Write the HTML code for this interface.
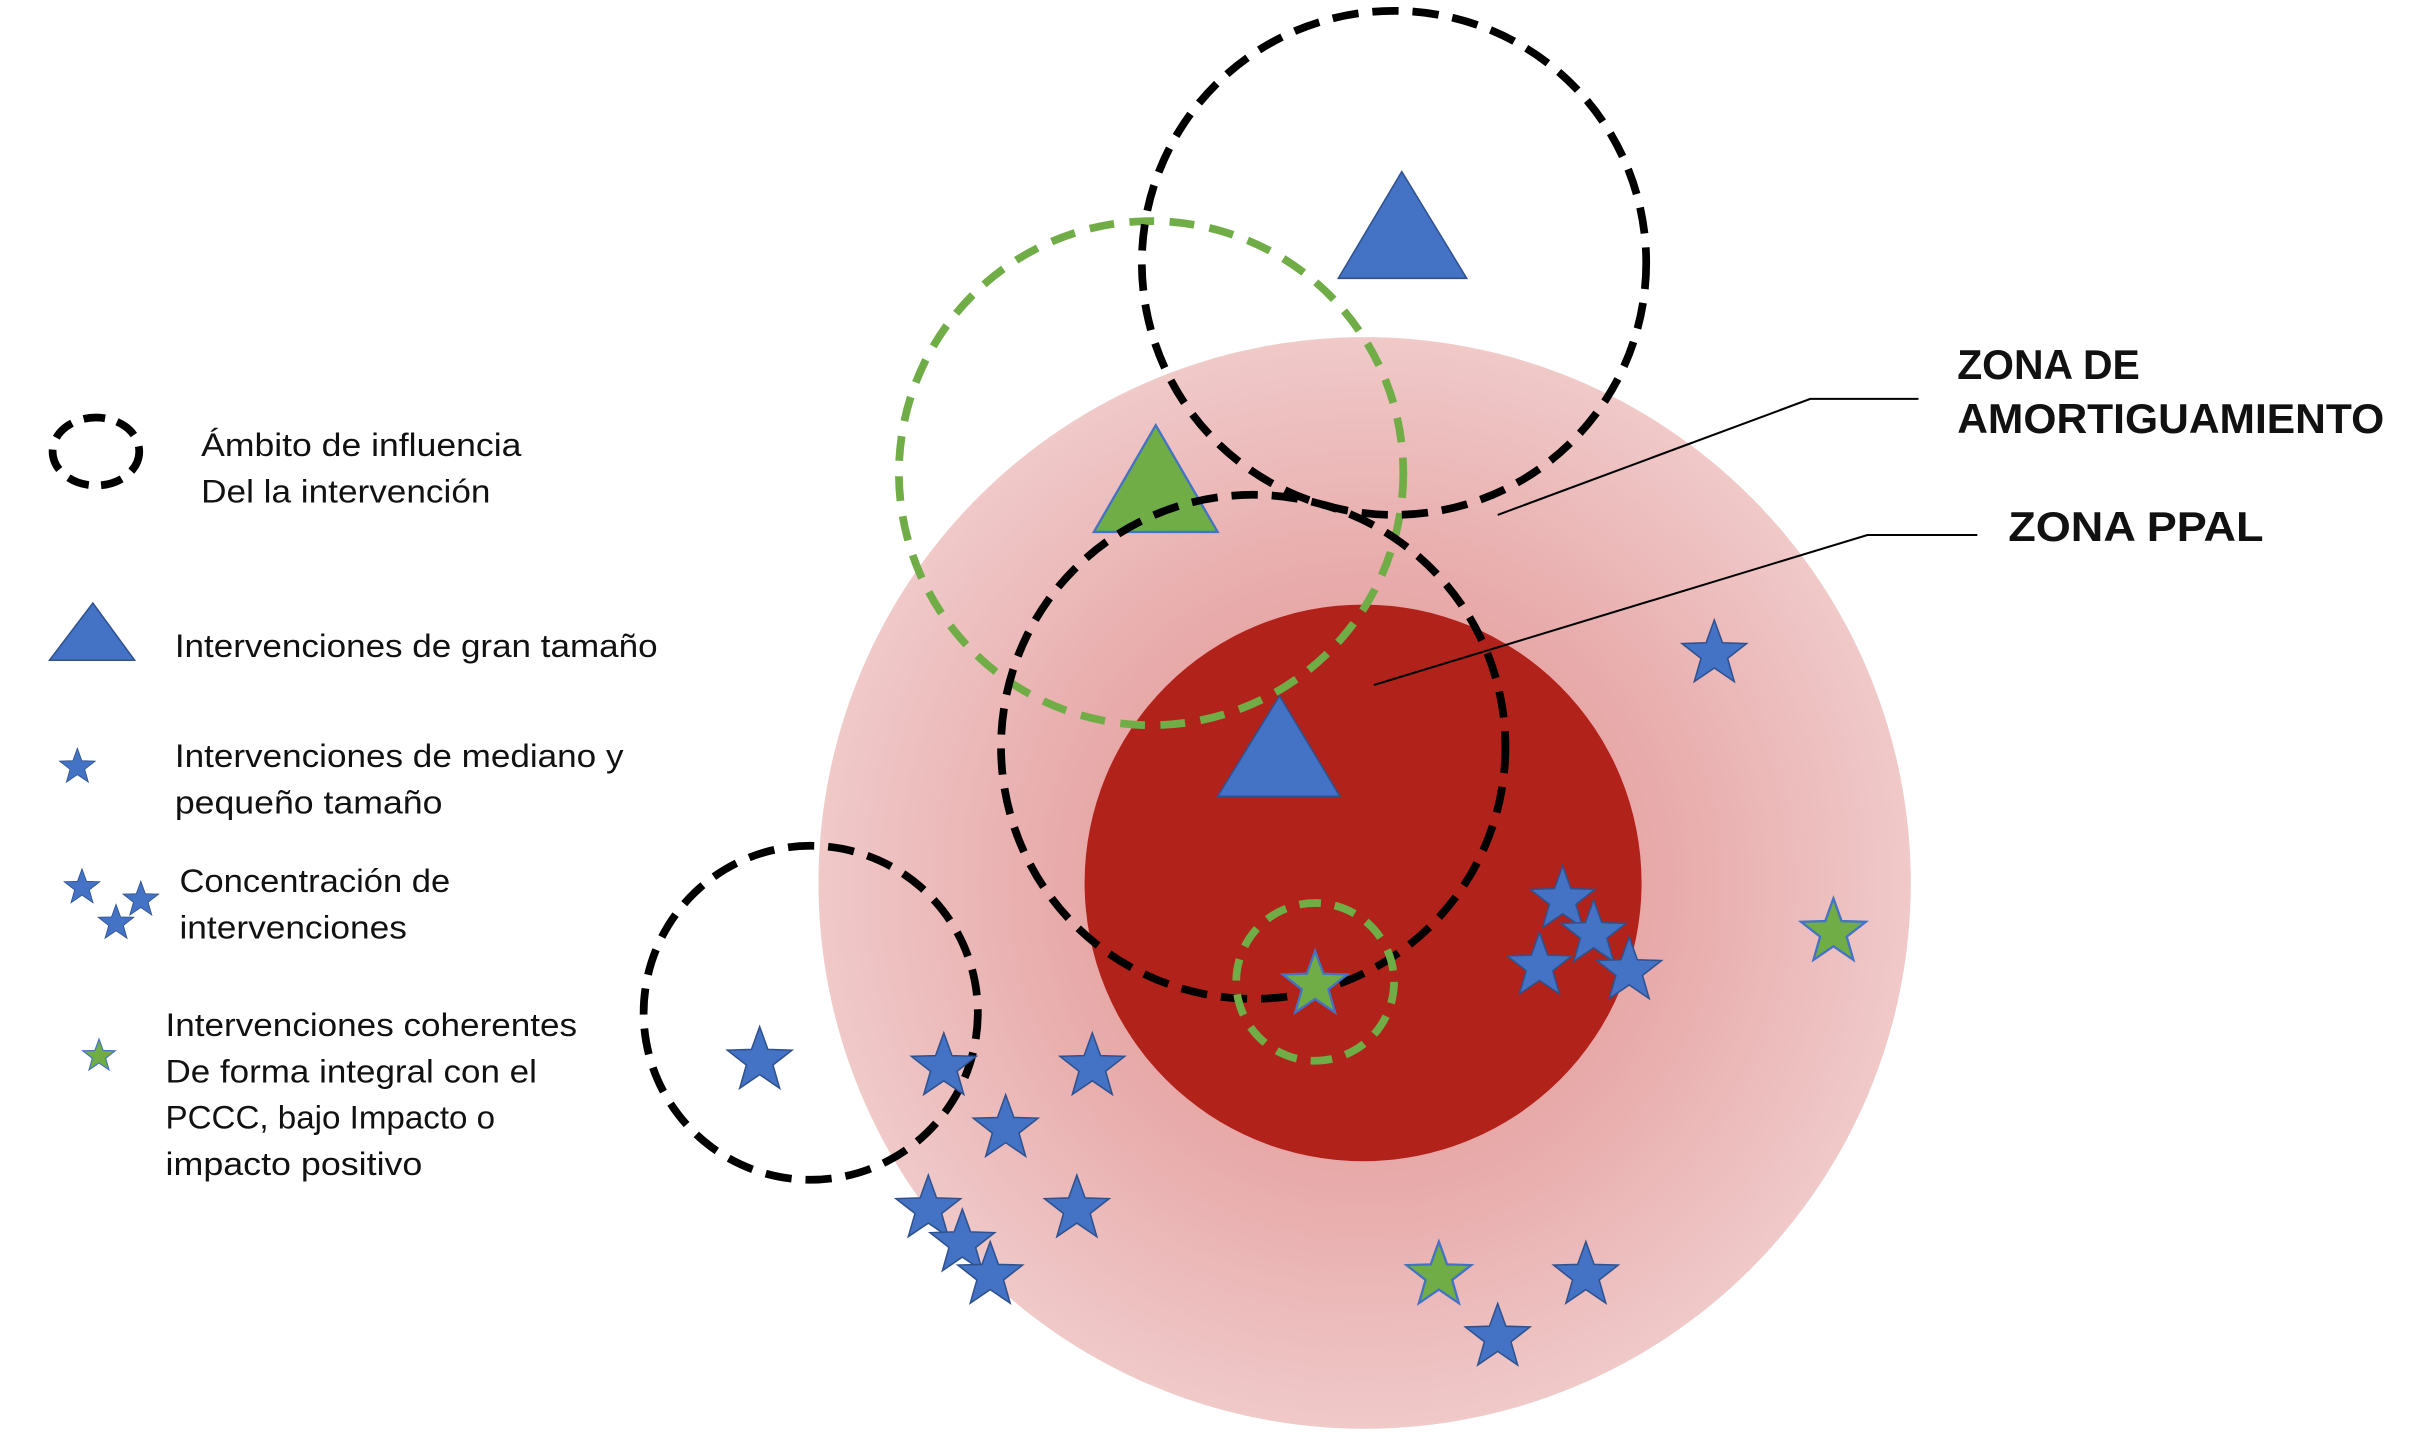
<!DOCTYPE html>
<html><head><meta charset="utf-8"><style>
html,body{margin:0;padding:0;background:#fff;}
svg{display:block;}
text{font-family:"Liberation Sans Narrow","Liberation Sans",sans-serif;fill:#111;}
</style></head><body>
<svg width="2426" height="1438" viewBox="0 0 1568 930" preserveAspectRatio="none" xmlns="http://www.w3.org/2000/svg">
<defs>
<radialGradient id="pg" cx="0.5" cy="0.5" r="0.5">
<stop offset="0" stop-color="#e49494"/>
<stop offset="0.55" stop-color="#e8aaaa"/>
<stop offset="1" stop-color="#f0c9c9"/>
</radialGradient>
<polygon id="s" points="0,-22 5.3,-7.3 20.9,-6.8 8.6,2.8 12.9,17.8 0,9 -12.9,17.8 -8.6,2.8 -20.9,-6.8 -5.3,-7.3" fill="#4472c4" stroke="#2f528f" stroke-width="1"/>
<polygon id="g" points="0,-22 5.3,-7.3 20.9,-6.8 8.6,2.8 12.9,17.8 0,9 -12.9,17.8 -8.6,2.8 -20.9,-6.8 -5.3,-7.3" fill="#70ad47" stroke="#4472c4" stroke-width="1.5"/>
</defs>
<rect width="1568" height="930" fill="#fff"/>
<circle cx="882" cy="571" r="353" fill="url(#pg)"/>
<circle cx="881" cy="571" r="180" fill="#b0221a"/>

<!-- triangles -->
<polygon points="906,111 865,180 948,180" fill="#4472c4" stroke="#2f528f"/>
<polygon points="747,275 707,344 787,344" fill="#70ad47" stroke="#4472c4" stroke-width="1.5"/>
<polygon points="827,450 787,515 866,515" fill="#4472c4" stroke="#2f528f"/>

<!-- dashed circles -->
<circle cx="744" cy="306" r="163" fill="none" stroke="#70ad47" stroke-width="5" stroke-dasharray="16 10"/>
<circle cx="901" cy="170" r="163" fill="none" stroke="#000" stroke-width="5" stroke-dasharray="17 9"/>
<circle cx="810" cy="483" r="163" fill="none" stroke="#000" stroke-width="5" stroke-dasharray="17 9"/>
<circle cx="524" cy="655" r="108" fill="none" stroke="#000" stroke-width="5" stroke-dasharray="17 9"/>
<circle cx="850" cy="635" r="51" fill="none" stroke="#70ad47" stroke-width="5" stroke-dasharray="14 9"/>

<!-- stars -->
<use href="#s" x="1108" y="423"/>
<use href="#s" x="491" y="686"/>
<use href="#s" x="610" y="690"/>
<use href="#s" x="706" y="690"/>
<use href="#s" x="650" y="730"/>
<use href="#s" x="696" y="782"/>
<use href="#s" x="600" y="782"/>
<use href="#s" x="622" y="804"/>
<use href="#s" x="640" y="825"/>
<use href="#s" x="1010" y="582"/>
<use href="#s" x="1030" y="604"/>
<use href="#s" x="995" y="625"/>
<use href="#s" x="1053" y="628"/>
<use href="#s" x="1025" y="825"/>
<use href="#s" x="968" y="865"/>
<use href="#g" x="1185" y="603"/>
<use href="#g" x="930" y="825"/>
<use href="#g" x="850" y="637"/>

<!-- leader lines -->
<polyline points="968,333 1170,258 1240,258" fill="none" stroke="#000" stroke-width="1.3"/>
<polyline points="888,443 1207,346 1278,346" fill="none" stroke="#000" stroke-width="1.3"/>
<text x="1265" y="245" font-size="27" font-weight="bold" textLength="118" lengthAdjust="spacingAndGlyphs">ZONA DE</text>
<text x="1265" y="280" font-size="27" font-weight="bold" textLength="276" lengthAdjust="spacingAndGlyphs">AMORTIGUAMIENTO</text>
<text x="1298" y="350" font-size="27" font-weight="bold" textLength="165" lengthAdjust="spacingAndGlyphs">ZONA PPAL</text>

<!-- legend -->
<ellipse cx="62" cy="292" rx="28" ry="22" fill="none" stroke="#000" stroke-width="5" stroke-dasharray="14 8"/>
<text x="130" y="295" font-size="21" textLength="207" lengthAdjust="spacingAndGlyphs">Ámbito de influencia</text>
<text x="130" y="325" font-size="21" textLength="187" lengthAdjust="spacingAndGlyphs">Del la intervención</text>
<polygon points="60,390 32,427 87,427" fill="#4472c4" stroke="#2f528f"/>
<text x="113" y="425" font-size="21" textLength="312" lengthAdjust="spacingAndGlyphs">Intervenciones de gran tamaño</text>
<use href="#s" transform="translate(50,496) scale(0.55)"/>
<text x="113" y="496" font-size="21" textLength="290" lengthAdjust="spacingAndGlyphs">Intervenciones de mediano y</text>
<text x="113" y="526" font-size="21" textLength="173" lengthAdjust="spacingAndGlyphs">pequeño tamaño</text>
<use href="#s" transform="translate(53,574) scale(0.55)"/>
<use href="#s" transform="translate(91,582) scale(0.55)"/>
<use href="#s" transform="translate(75,597) scale(0.55)"/>
<text x="116" y="577" font-size="21" textLength="175" lengthAdjust="spacingAndGlyphs">Concentración de</text>
<text x="116" y="607" font-size="21" textLength="147" lengthAdjust="spacingAndGlyphs">intervenciones</text>
<use href="#g" transform="translate(64,683) scale(0.5)"/>
<text x="107" y="670" font-size="21" textLength="266" lengthAdjust="spacingAndGlyphs">Intervenciones coherentes</text>
<text x="107" y="700" font-size="21" textLength="240" lengthAdjust="spacingAndGlyphs">De forma integral con el</text>
<text x="107" y="730" font-size="21" textLength="213" lengthAdjust="spacingAndGlyphs">PCCC, bajo Impacto o</text>
<text x="107" y="760" font-size="21" textLength="166" lengthAdjust="spacingAndGlyphs">impacto positivo</text>
</svg>
</body></html>
